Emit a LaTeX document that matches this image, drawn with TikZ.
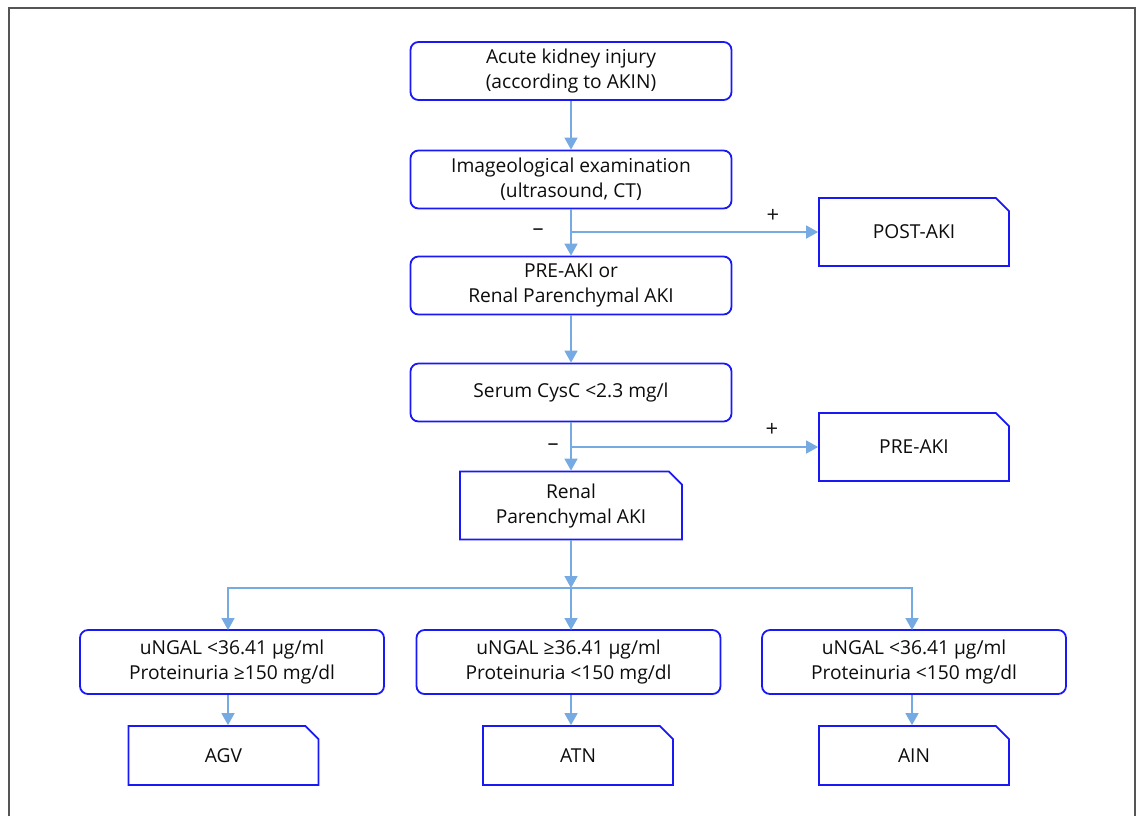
\documentclass[tikz,border=0pt]{standalone}
\usepackage{fontspec}
\setmainfont{Open Sans}
\usetikzlibrary{arrows.meta,shapes.misc}
\definecolor{boxblue}{RGB}{25,25,245}
\definecolor{linkblue}{RGB}{118,170,226}
\definecolor{framegray}{RGB}{85,85,85}

\begin{document}
\begin{tikzpicture}[x=0.5pt, y=-0.5pt, >={Triangle[width=6.5pt,length=6pt]},
        box/.style={draw=boxblue, line width=0.9pt, rounded corners=4pt, fill=white, align=center, inner sep=2pt,
            minimum width=160.5pt, minimum height=29pt, text=black!95, font=\fontsize{9.6}{12.5}\selectfont},
        tag/.style={box, rounded corners=0pt, chamfered rectangle, chamfered rectangle corners=north east,
            chamfered rectangle xsep=3.3pt, chamfered rectangle ysep=3.3pt, minimum width=95pt, minimum height=34pt},
        link/.style={->, draw=linkblue, line width=0.8pt},
        sign/.style={text=black!90, font=\fontsize{11}{12}\selectfont}]
        \def\colA{228} \def\colB{571} \def\colC{912}

        \useasboundingbox (0,0) rectangle (1143,816);
        \draw[framegray, line width=1pt] (9,816) -- (9,8) -- (1135,8) -- (1135,816);

        % main column
        \node[box] (AKI) at (\colB,71) {Acute kidney injury\\(according to AKIN)};
        \node[box] (Imaging) at (\colB,179.5) {Imageological examination\\(ultrasound, CT)};
        \node[box] (PreRenal) at (\colB,285.5) {PRE-AKI or\\Renal Parenchymal AKI};
        \node[box] (CysC) at (\colB,392.5) {Serum CysC <2.3 mg/l};
        \node[tag, minimum width=111pt] (Renal) at (\colB,505.5) {Renal\\Parenchymal AKI};

        % side results
        \node[tag] (PostAKI) at (914,232) {POST-AKI};
        \node[tag] (PreAKI) at (914,447) {PRE-AKI};

        % markers
        \node[box, minimum width=152pt, minimum height=32pt] (NgalA) at (232,662) {uNGAL <36.41 µg/ml\\Proteinuria ≥150 mg/dl};
        \node[box, minimum width=152pt, minimum height=32pt] (NgalB) at (568.5,662) {uNGAL ≥36.41 µg/ml\\Proteinuria <150 mg/dl};
        \node[box, minimum width=152pt, minimum height=32pt] (NgalC) at (914,662) {uNGAL <36.41 µg/ml\\Proteinuria <150 mg/dl};

        \node[tag, minimum height=29.5pt] (AGV) at (223.5,755.5) {AGV};
        \node[tag, minimum height=29.5pt] (ATN) at (578,755.5) {ATN};
        \node[tag, minimum height=29.5pt] (AIN) at (914,755.5) {AIN};

        \coordinate (SplitA) at (\colB,232);
        \coordinate (SplitB) at (\colB,447);
        \coordinate (SplitC) at (\colB,588);
        \coordinate (DownA) at (\colA,630);
        \coordinate (DownB) at (\colB,630);
        \coordinate (DownC) at (\colC,630);

        \draw[link] (AKI.south -| SplitA) -- (Imaging.north -| SplitA);
        \draw[link] (Imaging.south -| SplitA) -- (PreRenal.north -| SplitA);
        \draw[link] (SplitA) -- (PostAKI.west |- SplitA);
        \draw[link] (PreRenal.south -| SplitA) -- (CysC.north -| SplitA);
        \draw[link] (CysC.south -| SplitA) -- (Renal.north -| SplitA);
        \draw[link] (SplitB) -- (PreAKI.west |- SplitB);
        \draw[link] (Renal.south -| SplitA) -- (SplitC);
        \draw[link] (SplitC) -- (DownB);
        \draw[link] (SplitC) -| (DownA);
        \draw[link] (SplitC) -| (DownC);
        \draw[link] (NgalA.south -| DownA) -- (AGV.north -| DownA);
        \draw[link] (NgalB.south -| DownB) -- (ATN.north -| DownB);
        \draw[link] (NgalC.south -| DownC) -- (AIN.north -| DownC);

        \node[sign] (MinusA) at (538,232) {\textendash};
        \node[sign] (PlusA) at (773,216) {+};
        \node[sign] (MinusB) at (553,447) {\textendash};
        \node[sign] (PlusB) at (772,430) {+};
    \end{tikzpicture}
\end{document}
